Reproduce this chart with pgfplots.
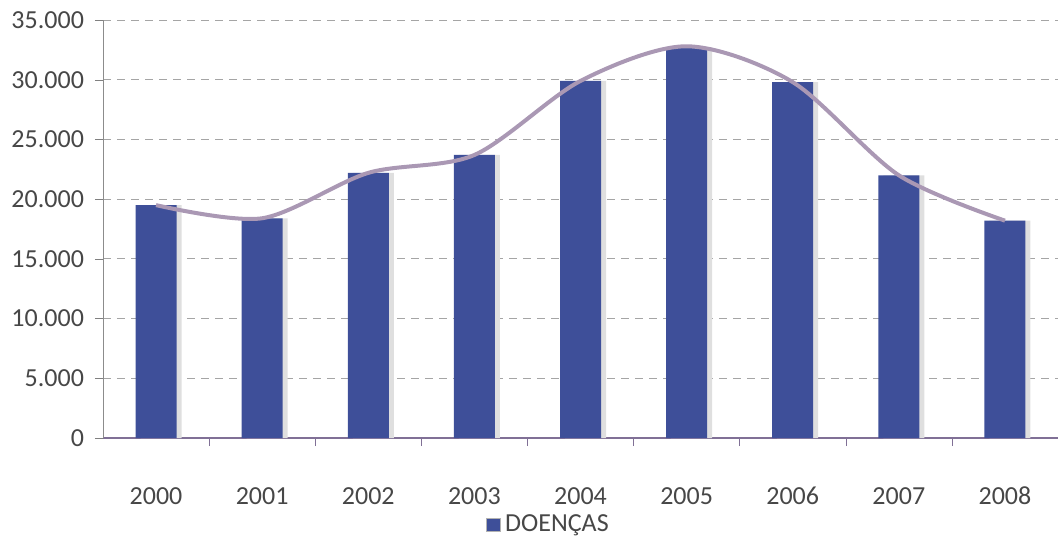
\documentclass[border=0pt]{standalone}
\usepackage{pgfplots}
\pgfplotsset{compat=1.18}
\usepackage{fontspec}
\setmainfont{Carlito}
\definecolor{barblue}{RGB}{62,79,153}
\definecolor{curve}{RGB}{170,152,180}
\definecolor{gridc}{RGB}{165,165,165}
\definecolor{xaxc}{RGB}{128,112,150}
\begin{document}
\begin{tikzpicture}
\begin{axis}[
  scale only axis,
  width=477.5pt, height=209pt,
  xmin=-0.5, xmax=8.5,
  ymin=0, ymax=35000,
  ytick={0,5000,...,35000},
  scaled y ticks=false,
  yticklabel style={/pgf/number format/fixed, /pgf/number format/precision=0,
    /pgf/number format/1000 sep={.}, /pgf/number format/assume math mode=true, xshift=-2pt},
  xtick={0,...,8},
  xticklabels={2000,2001,2002,2003,2004,2005,2006,2007,2008},
  extra x ticks={0.5,1.5,...,7.5},
  extra x tick labels={},
  extra x tick style={x tick style={draw=xaxc}},
  major tick length=4pt,
  x tick style={draw=none},
  y tick style={draw=gray},
  tick align=outside,
  axis x line*=bottom, axis y line*=left,
  x axis line style={draw=xaxc, thick, -},
  y axis line style={draw=gray!90, -},
  ymajorgrids,
  major grid style={draw=gridc, dash pattern=on 4pt off 3pt, thin},
  tick label style={font=\fontsize{13}{15}\selectfont, text=black!72},
  xticklabel style={anchor=base, yshift=-29pt},
  legend style={at={(rel axis cs:0.401,-0.208)}, anchor=west, draw=none, fill=none,
    font=\fontsize{13}{15}\selectfont\color{black!72}, inner sep=0pt},
  legend image code/.code={\fill[barblue,draw=gray!60] (0cm,-3.3pt) rectangle (7pt,3.3pt);},
  clip=false,
]
\coordinate (O) at (rel axis cs:0,0);
\coordinate (T) at (rel axis cs:1,1);
\addplot[ybar, bar width=20.5pt, bar shift=2.5pt, fill=gray!25, draw=none, forget plot]
  coordinates {(0,19500) (1,18400) (2,22200) (3,23700) (4,29900) (5,32700) (6,29800) (7,22000) (8,18200)};
\addplot[ybar, bar width=20.5pt, bar shift=0pt, fill=barblue, draw=none]
  coordinates {(0,19500) (1,18400) (2,22200) (3,23700) (4,29900) (5,32700) (6,29800) (7,22000) (8,18200)};
\addlegendentry{DOENÇAS}
\addplot[curve, line width=2pt, smooth, forget plot]
  coordinates {(0,19500) (1,18400) (2,22200) (3,23700) (4,29900) (5,32800) (6,29800) (7,22000) (8,18200)};
\end{axis}
\pgfresetboundingbox
\path ([xshift=-51.5pt,yshift=-49.5pt]O) rectangle ([yshift=10pt]T);
\end{tikzpicture}
\end{document}
